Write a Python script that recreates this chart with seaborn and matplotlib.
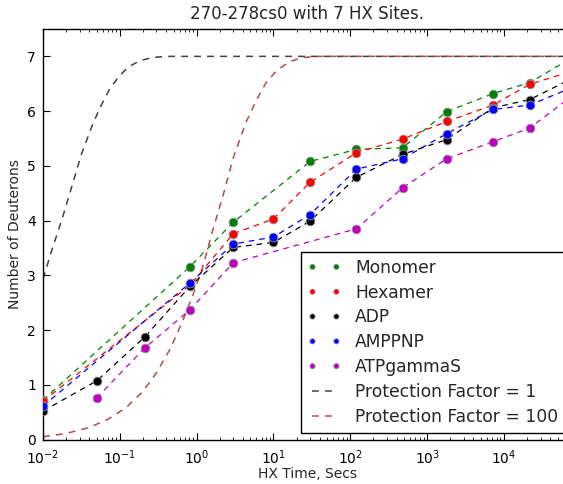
import numpy as np
import pandas as pd
import matplotlib
matplotlib.use("Agg")
import matplotlib.pyplot as plt
from matplotlib.ticker import LogLocator, NullFormatter, FixedLocator
import seaborn as sns

# ---- measured deuteron uptake, HX time in seconds ----
t_monomer = [0.01, 0.82, 3, 30, 120, 480, 1800, 7200, 21600, 86400]
d_monomer = [0.72, 3.16, 3.97, 5.08, 5.30, 5.33, 5.99, 6.32, 6.52, 7.02]

t_hexamer = [0.01, 0.82, 3, 10, 30, 120, 480, 1800, 7200, 21600, 86400]
d_hexamer = [0.70, 2.82, 3.76, 4.03, 4.70, 5.24, 5.49, 5.81, 6.11, 6.49, 6.75]

t_adp = [0.01, 0.05, 0.21, 0.82, 3, 10, 30, 120, 480, 1800, 7200, 21600, 86400]
d_adp = [0.52, 1.07, 1.87, 2.80, 3.51, 3.60, 3.99, 4.79, 5.21, 5.48, 6.06, 6.21, 6.63]

t_amppnp = [0.01, 0.82, 3, 10, 30, 120, 480, 1800, 7200, 21600, 86400]
d_amppnp = [0.61, 2.86, 3.57, 3.70, 4.11, 4.94, 5.13, 5.59, 6.03, 6.11, 6.46]

t_atpgs = [0.05, 0.21, 0.82, 3, 120, 480, 1800, 7200, 21600, 86400]
d_atpgs = [0.76, 1.67, 2.37, 3.23, 3.85, 4.60, 5.13, 5.44, 5.69, 6.33]

# ---- reference exchange curves for the 7 sites ----
t_pf1 = [0.01, 0.0129, 0.0182, 0.0245, 0.0316, 0.0427, 0.0546, 0.0736,
         0.0944, 0.127, 0.181, 0.27, 0.4, 1.0, 1e5]
d_pf1 = [2.93, 3.44, 4.08, 4.69, 5.21, 5.70, 6.05, 6.40,
         6.61, 6.80, 6.92, 6.98, 7.0, 7.0, 7.0]

t_pf100 = [0.01, 0.02, 0.04, 0.07, 0.12, 0.2, 0.3, 0.45, 0.65, 0.9, 1.2,
           1.6, 2.2, 3.0, 4.4, 6.0, 8.0, 11, 16, 24, 40, 1e5]
d_pf100 = [0.05, 0.11, 0.22, 0.37, 0.58, 0.88, 1.22, 1.65, 2.15, 2.65, 3.15,
           3.80, 4.45, 5.15, 5.80, 6.20, 6.52, 6.74, 6.90, 6.98, 7.0, 7.0]

series_names = ["Monomer", "Hexamer", "ADP", "AMPPNP", "ATPgammaS"]
series_colors = ["#008000", "#ff0000", "#000000", "#0000ff", "#bf00bf"]
series_data = [(t_monomer, d_monomer), (t_hexamer, d_hexamer), (t_adp, d_adp),
               (t_amppnp, d_amppnp), (t_atpgs, d_atpgs)]

title = "270-278cs0 with 7 HX Sites."
x_label = "HX Time, Secs"
y_label = "Number of Deuterons"

sns.set_style("ticks")
plt.rcParams.update({
    "font.family": ["DejaVu Sans"],
    "axes.unicode_minus": False,
    "xtick.direction": "in",
    "ytick.direction": "in",
    "xtick.top": True,
    "ytick.right": True,
    "xtick.major.size": 5,
    "xtick.minor.size": 2.5,
    "ytick.major.size": 5,
    "xtick.color": "black",
    "ytick.color": "black",
    "axes.edgecolor": "black",
    "axes.linewidth": 1.0,
})

W, H = 563, 484
fig = plt.figure(figsize=(W / 100, H / 100), dpi=100)
ax_left, ax_right, ax_top, ax_bottom = 43, 572, 29, 439.5
ax = fig.add_axes([ax_left / W, (H - ax_bottom) / H,
                   (ax_right - ax_left) / W, (ax_bottom - ax_top) / H])

dash = (4.5, 4)
for name, color, (t, d) in zip(series_names, series_colors, series_data):
    df = pd.DataFrame({"t": t, "d": d})
    sns.lineplot(data=df, x="t", y="d", ax=ax, color=color, lw=0.9,
                 linestyle=(0, dash), estimator=None, sort=False,
                 legend=False, zorder=2)

for name, color, (t, d) in zip(series_names, series_colors, series_data):
    df = pd.DataFrame({"t": t, "d": d})
    sns.scatterplot(data=df, x="t", y="d", ax=ax, color=color, s=40,
                    edgecolor="0.6", linewidth=0.6, label=name, zorder=3)

sns.lineplot(x=t_pf1, y=d_pf1, ax=ax, color="#404040", lw=1.1,
             linestyle=(0, dash), estimator=None, sort=False,
             label="Protection Factor = 1", zorder=1)
sns.lineplot(x=t_pf100, y=d_pf100, ax=ax, color="#b54a4a", lw=1.1,
             linestyle=(0, dash), estimator=None, sort=False,
             label="Protection Factor = 100", zorder=1)

ax.set_xscale("log")
xmax = 10 ** (-2 + (ax_right - ax_left) / 76.83)
ax.set_xlim(0.01, xmax)
ax.set_ylim(0, 7.5)
ax.yaxis.set_major_locator(FixedLocator(range(0, 8)))
ax.xaxis.set_major_locator(LogLocator(base=10, numticks=20))
ax.xaxis.set_minor_locator(LogLocator(base=10, subs=np.arange(2, 10), numticks=100))
ax.xaxis.set_minor_formatter(NullFormatter())
ax.tick_params(axis="both", labelsize=10, pad=5)
ax.tick_params(axis="x", pad=6.5)
ax.tick_params(axis="y", which="minor", left=False, right=False)

ax.set_title(title, fontsize=12, pad=7)
ax.set_xlabel(x_label, fontsize=10, labelpad=0)
ax.set_ylabel(y_label, fontsize=10)

leg = ax.legend(loc="lower right", fontsize=12.3, scatterpoints=2,
                scatteryoffsets=[0.5], numpoints=2, markerscale=0.6,
                handlelength=2.0, handletextpad=0.8, labelspacing=0.4,
                borderpad=0.4, borderaxespad=0.4, fancybox=False,
                framealpha=1, edgecolor="black")
leg.get_frame().set_linewidth(1.0)

fig.savefig("out.png", dpi=100)
